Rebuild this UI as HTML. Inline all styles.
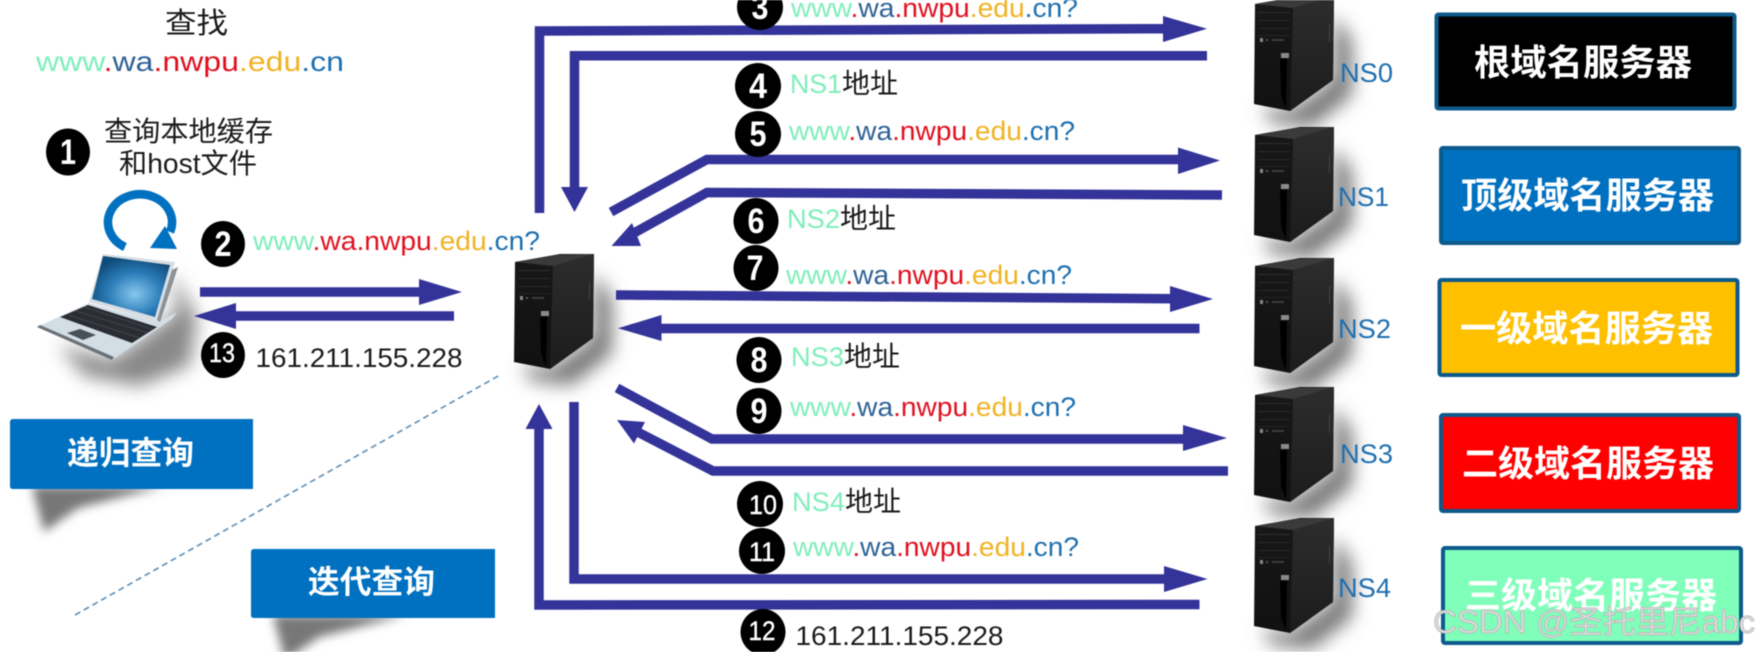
<!DOCTYPE html>
<html><head><meta charset="utf-8">
<style>
html,body{margin:0;padding:0;background:#fff;width:1759px;height:652px;overflow:hidden}
svg{display:block;filter:blur(0.6px)}
text{font-family:"Liberation Sans","Noto Sans CJK SC",sans-serif}
.u{font-size:27px}
.g{fill:#80eebb}.b{fill:#2f6296}.r{fill:#e0101f}.y{fill:#f0b323}.c{fill:#1f70b0}
.k{fill:#1a1a1a}
.ns{font-size:27px;fill:#1f6fb0}
.t{font-size:36px;font-weight:bold;fill:#fff}
.t2{font-size:32px;font-weight:bold;fill:#fff}
.d{font-size:35px;font-weight:bold;fill:#fff;text-anchor:middle}
.d2{font-size:27px;fill:#fff;stroke:#fff;stroke-width:.4;text-anchor:middle}
.z{font-size:28px;fill:#1a1a1a}
</style></head><body>
<svg width="1759" height="652" viewBox="0 0 1759 652" xmlns="http://www.w3.org/2000/svg">
<defs>
<filter id="bl" x="-50%" y="-50%" width="200%" height="200%"><feGaussianBlur stdDeviation="9"/></filter>
<filter id="bs" x="-50%" y="-80%" width="200%" height="260%"><feGaussianBlur stdDeviation="5"/></filter>
<radialGradient id="scr" cx="55%" cy="62%" r="62%"><stop offset="0" stop-color="#86c8ee"/><stop offset=".55" stop-color="#2c7cb8"/><stop offset="1" stop-color="#0f4c7c"/></radialGradient>
<linearGradient id="fr" x1="0" y1="0" x2="0" y2="1"><stop offset="0" stop-color="#181818"/><stop offset="1" stop-color="#111"/></linearGradient>
<linearGradient id="sd" x1="0" y1="0" x2="0" y2="1"><stop offset="0" stop-color="#2d2d2d"/><stop offset="1" stop-color="#1c1c1c"/></linearGradient>
<g id="srv">
<polygon points="1334,145 1352,172 1352,226 1312,258 1272,254 1262,238 1290,242 1333,211" fill="#777" filter="url(#bl)"/>
<polygon points="1255,135 1300,127 1334,127 1333,211 1290,242 1254,235" fill="url(#fr)"/>
<polygon points="1293,139 1334,127 1333,211 1290,242" fill="url(#sd)"/>
<polygon points="1255,135 1296,128 1334,127 1293,139" fill="#3a3a3a"/>
<rect x="1258" y="143" width="32" height="1" fill="#2d2d2d"/>
<rect x="1258" y="151" width="32" height="1" fill="#2a2a2a"/>
<rect x="1258" y="159" width="32" height="1" fill="#272727"/>
<rect x="1258" y="166" width="32" height="1" fill="#252525"/>
<rect x="1260" y="169" width="3" height="4" fill="#888"/>
<rect x="1266" y="170" width="2" height="2" fill="#555"/>
<rect x="1272" y="170" width="12" height="2" fill="#3c3c3c"/>
<rect x="1281" y="184" width="8" height="5" fill="#8a8a8a"/>
<polygon points="1280,190 1287,190 1286,240 1281,226" fill="#000"/>
<rect x="1329" y="155" width="1" height="18" fill="#454545"/>
</g>
</defs>
<rect width="1759" height="652" fill="#fff"/>

<!-- servers -->
<use href="#srv" y="-131"/>
<use href="#srv"/>
<use href="#srv" y="131"/>
<use href="#srv" y="260"/>
<use href="#srv" y="391"/>
<use href="#srv" x="-740" y="127"/>

<!-- laptop -->
<polygon points="172,272 197,318 190,365 140,386 85,376 58,345 112,360 177,312" fill="#888" filter="url(#bl)"/>
<polygon points="37,327 89,303 158,322 177,312 172,319 112,360" fill="#d3dde4"/>
<polygon points="37,327 112,360 114,357 40,325" fill="#6a737a"/>
<polygon points="60,317 88,305 157,327 132,343" fill="#2a2d33"/>
<g stroke="#4a4e55" stroke-width=".8"><line x1="68" y1="315" x2="140" y2="338"/><line x1="76" y1="311" x2="148" y2="333"/><line x1="84" y1="307" x2="152" y2="329"/></g>
<polygon points="67,333 80,329 96,335 83,340" fill="#4a5055"/>
<polygon points="103,254 175,262 158,322 89,302" fill="#d7dde2"/>
<polygon points="103,256 170,265 155,317 92,299" fill="url(#scr)"/>
<polygon points="172,270 178,267 160,322 157,320" fill="#8c9297"/>

<!-- loop arrow -->
<path d="M125,247 A32,28 0 1 1 170,232" fill="none" stroke="#0070c0" stroke-width="8.5"/>
<polygon points="165,226 177,249 150,248" fill="#0070c0"/>

<!-- arrows -->
<g fill="none" stroke="#333399" stroke-width="9.5">
<path d="M200,292 H425"/>
<path d="M454,316 H230"/>
<path d="M539.5,213 V31 L1170,28.7"/>
<path d="M1207,55.7 H574.5 V190"/>
<path d="M611,212 L707,159.5 H1185"/>
<path d="M1222,195 L707,192.5 L625,238"/>
<path d="M616,295 L1175,298.7"/>
<path d="M1199.5,328.5 H655"/>
<path d="M617,388 L712,439 H1190"/>
<path d="M1228,471 H713 L630,428"/>
<path d="M574,402 V579 H1170"/>
<path d="M1199.5,604.5 L539,605 V425"/>
</g>
<g fill="#333399">
<polygon points="419,279 462,292 419,305"/>
<polygon points="236,303 194,316 236,329"/>
<polygon points="1163,16 1207,28.7 1163,42"/>
<polygon points="561,187 588,187 574.5,212"/>
<polygon points="1178,147.5 1220,160.5 1178,174"/>
<polygon points="611.5,246 632,223 641,246"/>
<polygon points="1170,286 1213,299 1170,312"/>
<polygon points="661.5,315 618,328.3 661.5,341"/>
<polygon points="1183,425 1227,438 1183,451"/>
<polygon points="617,420 645,422 634,443.5"/>
<polygon points="1164,566 1207.5,579 1164,592"/>
<polygon points="525.5,429 552.5,429 539,404"/>
</g>

<!-- dashed separator -->
<line x1="75" y1="615" x2="500" y2="375" stroke="#5b8db5" stroke-width="1.6" stroke-dasharray="6 4"/>

<!-- left text -->
<text x="165" y="33" font-size="29" fill="#1a1a1a" textLength="63" lengthAdjust="spacingAndGlyphs">查找</text>
<text x="36" y="71" font-size="28" textLength="308" lengthAdjust="spacingAndGlyphs"><tspan class="g">www</tspan><tspan class="r">.</tspan><tspan class="b">wa</tspan><tspan class="r">.nwpu</tspan><tspan class="y">.edu</tspan><tspan class="c">.cn</tspan></text>
<text x="104" y="141" font-size="28" fill="#1a1a1a" textLength="169" lengthAdjust="spacingAndGlyphs">查询本地缓存</text>
<text x="119" y="173" font-size="28" fill="#1a1a1a" textLength="138" lengthAdjust="spacingAndGlyphs">和host文件</text>

<!-- url labels -->
<text class="u" x="253" y="250" textLength="287" lengthAdjust="spacingAndGlyphs"><tspan class="g">www</tspan><tspan class="r">.wa.nwpu</tspan><tspan class="y">.edu</tspan><tspan class="c">.cn?</tspan></text>
<text class="u" x="791" y="17" textLength="287" lengthAdjust="spacingAndGlyphs"><tspan class="g">www</tspan><tspan class="r">.</tspan><tspan class="b">wa</tspan><tspan class="r">.nwpu</tspan><tspan class="y">.edu</tspan><tspan class="c">.cn?</tspan></text>
<text class="u" x="789" y="140" textLength="286" lengthAdjust="spacingAndGlyphs"><tspan class="g">www</tspan><tspan class="r">.</tspan><tspan class="b">wa</tspan><tspan class="r">.nwpu</tspan><tspan class="y">.edu</tspan><tspan class="c">.cn?</tspan></text>
<text class="u" x="786" y="284" textLength="286" lengthAdjust="spacingAndGlyphs"><tspan class="g">www</tspan><tspan class="r">.</tspan><tspan class="b">wa</tspan><tspan class="r">.nwpu</tspan><tspan class="y">.edu</tspan><tspan class="c">.cn?</tspan></text>
<text class="u" x="790" y="416" textLength="286" lengthAdjust="spacingAndGlyphs"><tspan class="g">www</tspan><tspan class="r">.</tspan><tspan class="b">wa</tspan><tspan class="r">.nwpu</tspan><tspan class="y">.edu</tspan><tspan class="c">.cn?</tspan></text>
<text class="u" x="793" y="556" textLength="286" lengthAdjust="spacingAndGlyphs"><tspan class="g">www</tspan><tspan class="r">.</tspan><tspan class="b">wa</tspan><tspan class="r">.nwpu</tspan><tspan class="y">.edu</tspan><tspan class="c">.cn?</tspan></text>

<!-- NS address labels -->
<text class="u g" x="790" y="93" textLength="52" lengthAdjust="spacingAndGlyphs">NS1</text><text class="z" x="842" y="93">地址</text>
<text class="u g" x="787" y="228" textLength="53" lengthAdjust="spacingAndGlyphs">NS2</text><text class="z" x="840" y="228">地址</text>
<text class="u g" x="791" y="366" textLength="53" lengthAdjust="spacingAndGlyphs">NS3</text><text class="z" x="844" y="366">地址</text>
<text class="u g" x="792" y="511" textLength="53" lengthAdjust="spacingAndGlyphs">NS4</text><text class="z" x="845" y="511">地址</text>

<!-- IP labels -->
<text x="255.5" y="367" font-size="27" class="k" textLength="207" lengthAdjust="spacingAndGlyphs">161.211.155.228</text>
<text x="795.5" y="645" font-size="27" class="k" textLength="208" lengthAdjust="spacingAndGlyphs">161.211.155.228</text>

<!-- badges -->
<g fill="#000">
<ellipse cx="68" cy="152" rx="22" ry="23.5"/>
<ellipse cx="223" cy="244" rx="22" ry="23"/>
<ellipse cx="223" cy="355" rx="22" ry="23"/>
<ellipse cx="760" cy="7" rx="23" ry="23"/>
<ellipse cx="758" cy="86" rx="23" ry="23"/>
<ellipse cx="758" cy="134" rx="23" ry="23"/>
<ellipse cx="756" cy="221" rx="22.5" ry="23"/>
<ellipse cx="756" cy="268" rx="22.5" ry="23"/>
<ellipse cx="759" cy="360" rx="22.5" ry="23"/>
<ellipse cx="759" cy="411" rx="22.5" ry="23"/>
<ellipse cx="760" cy="504" rx="23" ry="23"/>
<ellipse cx="762" cy="551" rx="23" ry="23"/>
<ellipse cx="763" cy="632" rx="22.5" ry="23"/>
</g>
<text class="d" x="68" y="164" textLength="16" lengthAdjust="spacingAndGlyphs">1</text>
<text class="d" x="223" y="256" textLength="17" lengthAdjust="spacingAndGlyphs">2</text>
<text class="d2" x="222" y="362" textLength="26" lengthAdjust="spacingAndGlyphs">13</text>
<text class="d" x="760" y="19" textLength="17" lengthAdjust="spacingAndGlyphs">3</text>
<text class="d" x="758" y="98" textLength="18" lengthAdjust="spacingAndGlyphs">4</text>
<text class="d" x="758" y="146" textLength="17" lengthAdjust="spacingAndGlyphs">5</text>
<text class="d" x="756" y="233" textLength="17" lengthAdjust="spacingAndGlyphs">6</text>
<text class="d" x="755" y="280" textLength="17" lengthAdjust="spacingAndGlyphs">7</text>
<text class="d" x="759" y="372" textLength="17" lengthAdjust="spacingAndGlyphs">8</text>
<text class="d" x="759" y="423" textLength="17" lengthAdjust="spacingAndGlyphs">9</text>
<text class="d2" x="763" y="514" textLength="28" lengthAdjust="spacingAndGlyphs">10</text>
<text class="d2" x="762" y="561" textLength="26" lengthAdjust="spacingAndGlyphs">11</text>
<text class="d2" x="762" y="640" textLength="27" lengthAdjust="spacingAndGlyphs">12</text>

<!-- NS names -->
<text class="ns" x="1340" y="82" textLength="53" lengthAdjust="spacingAndGlyphs">NS0</text>
<text class="ns" x="1338" y="206" textLength="51" lengthAdjust="spacingAndGlyphs">NS1</text>
<text class="ns" x="1338" y="338" textLength="53" lengthAdjust="spacingAndGlyphs">NS2</text>
<text class="ns" x="1340" y="463" textLength="53" lengthAdjust="spacingAndGlyphs">NS3</text>
<text class="ns" x="1338" y="597" textLength="53" lengthAdjust="spacingAndGlyphs">NS4</text>

<!-- legend boxes -->
<g stroke="#0c5a8c" stroke-width="4">
<rect x="1436.5" y="14.5" width="298" height="94" fill="#000" rx="2"/>
<rect x="1441" y="148" width="298" height="95" fill="#0070c0" rx="2"/>
<rect x="1439.5" y="280" width="298" height="95" fill="#ffc000" rx="2"/>
<rect x="1441" y="415" width="298" height="96" fill="#ff0000" rx="2"/>
<rect x="1443" y="548" width="298" height="95" fill="#7fffb9" rx="2"/>
</g>
<text class="t" x="1474" y="75" textLength="218" lengthAdjust="spacingAndGlyphs">根域名服务器</text>
<text class="t" x="1461" y="208" textLength="253" lengthAdjust="spacingAndGlyphs">顶级域名服务器</text>
<text class="t" x="1460" y="341" textLength="253" lengthAdjust="spacingAndGlyphs">一级域名服务器</text>
<text class="t" x="1462" y="476" textLength="252" lengthAdjust="spacingAndGlyphs">二级域名服务器</text>
<text class="t" x="1465" y="608" textLength="252" lengthAdjust="spacingAndGlyphs">三级域名服务器</text>

<!-- query type boxes -->
<polygon points="32,486 44,532 78,508 165,486" fill="#777" filter="url(#bs)"/>
<polygon points="273,615 285,661 319,637 406,615" fill="#777" filter="url(#bs)"/>
<path d="M13,419 H253 V489 H13 Q10,489 10,486 V422 Q10,419 13,419Z" fill="#0070c0"/>
<path d="M254,549 H495 V618 H254 Q251,618 251,615 V552 Q251,549 254,549Z" fill="#0070c0"/>
<text class="t2" x="67" y="464" textLength="127" lengthAdjust="spacingAndGlyphs">递归查询</text>
<text class="t2" x="308" y="593" textLength="127" lengthAdjust="spacingAndGlyphs">迭代查询</text>

<!-- watermark -->
<text x="1433" y="633" font-size="32" fill="#dcdcdc" stroke="#b4b4b4" stroke-width="0.7" textLength="322" lengthAdjust="spacingAndGlyphs">CSDN @圣托里尼abc</text>
</svg>
</body></html>
